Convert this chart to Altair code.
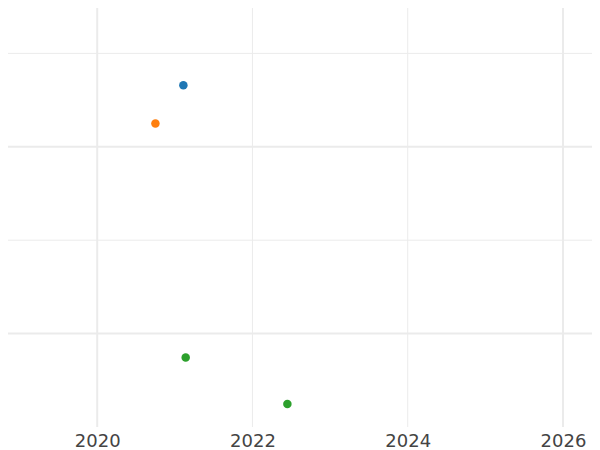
import altair as alt
import pandas as pd

# data points (year, value, series)
years = [2021.11, 2020.75, 2021.14, 2022.45]
values = [3.66, 3.25, 0.745, 0.245]
series = ["A", "B", "C", "C"]
series_names = ["A", "B", "C"]
series_colors = ["#1f77b4", "#ff7f0e", "#2ca02c"]

# axis ticks / grid
x_ticks = [2020, 2022, 2024, 2026]
x_grid_weight = [2, 1, 1, 2]
y_grid = [1, 2, 3, 4]
y_grid_weight = [2, 1, 2, 1]

x_domain = [2018.851, 2026.374]
y_domain = [0, 4.486]

pts = pd.DataFrame({"year": years, "value": values, "series": series})
gx = pd.DataFrame({"year": x_ticks, "w": x_grid_weight})
gy = pd.DataFrame({"value": y_grid, "w": y_grid_weight})

xscale = alt.Scale(domain=x_domain, nice=False, zero=False)
yscale = alt.Scale(domain=y_domain, nice=False, zero=False)

xaxis = alt.Axis(values=x_ticks, format="d", grid=False, ticks=False, domain=False,
                 labelFont="DejaVu Sans", labelFontSize=18, labelColor="#444444",
                 labelPadding=5, title=None, labelFlush=False)

vgrid = alt.Chart(gx).mark_rule(color="#ebebeb").encode(
    x=alt.X("year:Q", scale=xscale, axis=xaxis),
    strokeWidth=alt.StrokeWidth("w:Q", scale=None, legend=None),
)
hgrid = alt.Chart(gy).mark_rule(color="#ebebeb").encode(
    y=alt.Y("value:Q", scale=yscale, axis=None),
    strokeWidth=alt.StrokeWidth("w:Q", scale=None, legend=None),
)
points = alt.Chart(pts).mark_circle(size=72, opacity=1).encode(
    x=alt.X("year:Q", scale=xscale, axis=xaxis),
    y=alt.Y("value:Q", scale=yscale, axis=None),
    color=alt.Color("series:N", scale=alt.Scale(domain=series_names, range=series_colors), legend=None),
)

chart = alt.layer(vgrid, hgrid, points).properties(
    width=584, height=419,
    autosize=alt.AutoSizeParams(type="none"),
    padding={"left": 0, "top": 0, "right": 0, "bottom": 23},
    background="white",
).configure_view(stroke=None)

chart.save("out.html", embed_options={"renderer": "svg", "actions": False})
